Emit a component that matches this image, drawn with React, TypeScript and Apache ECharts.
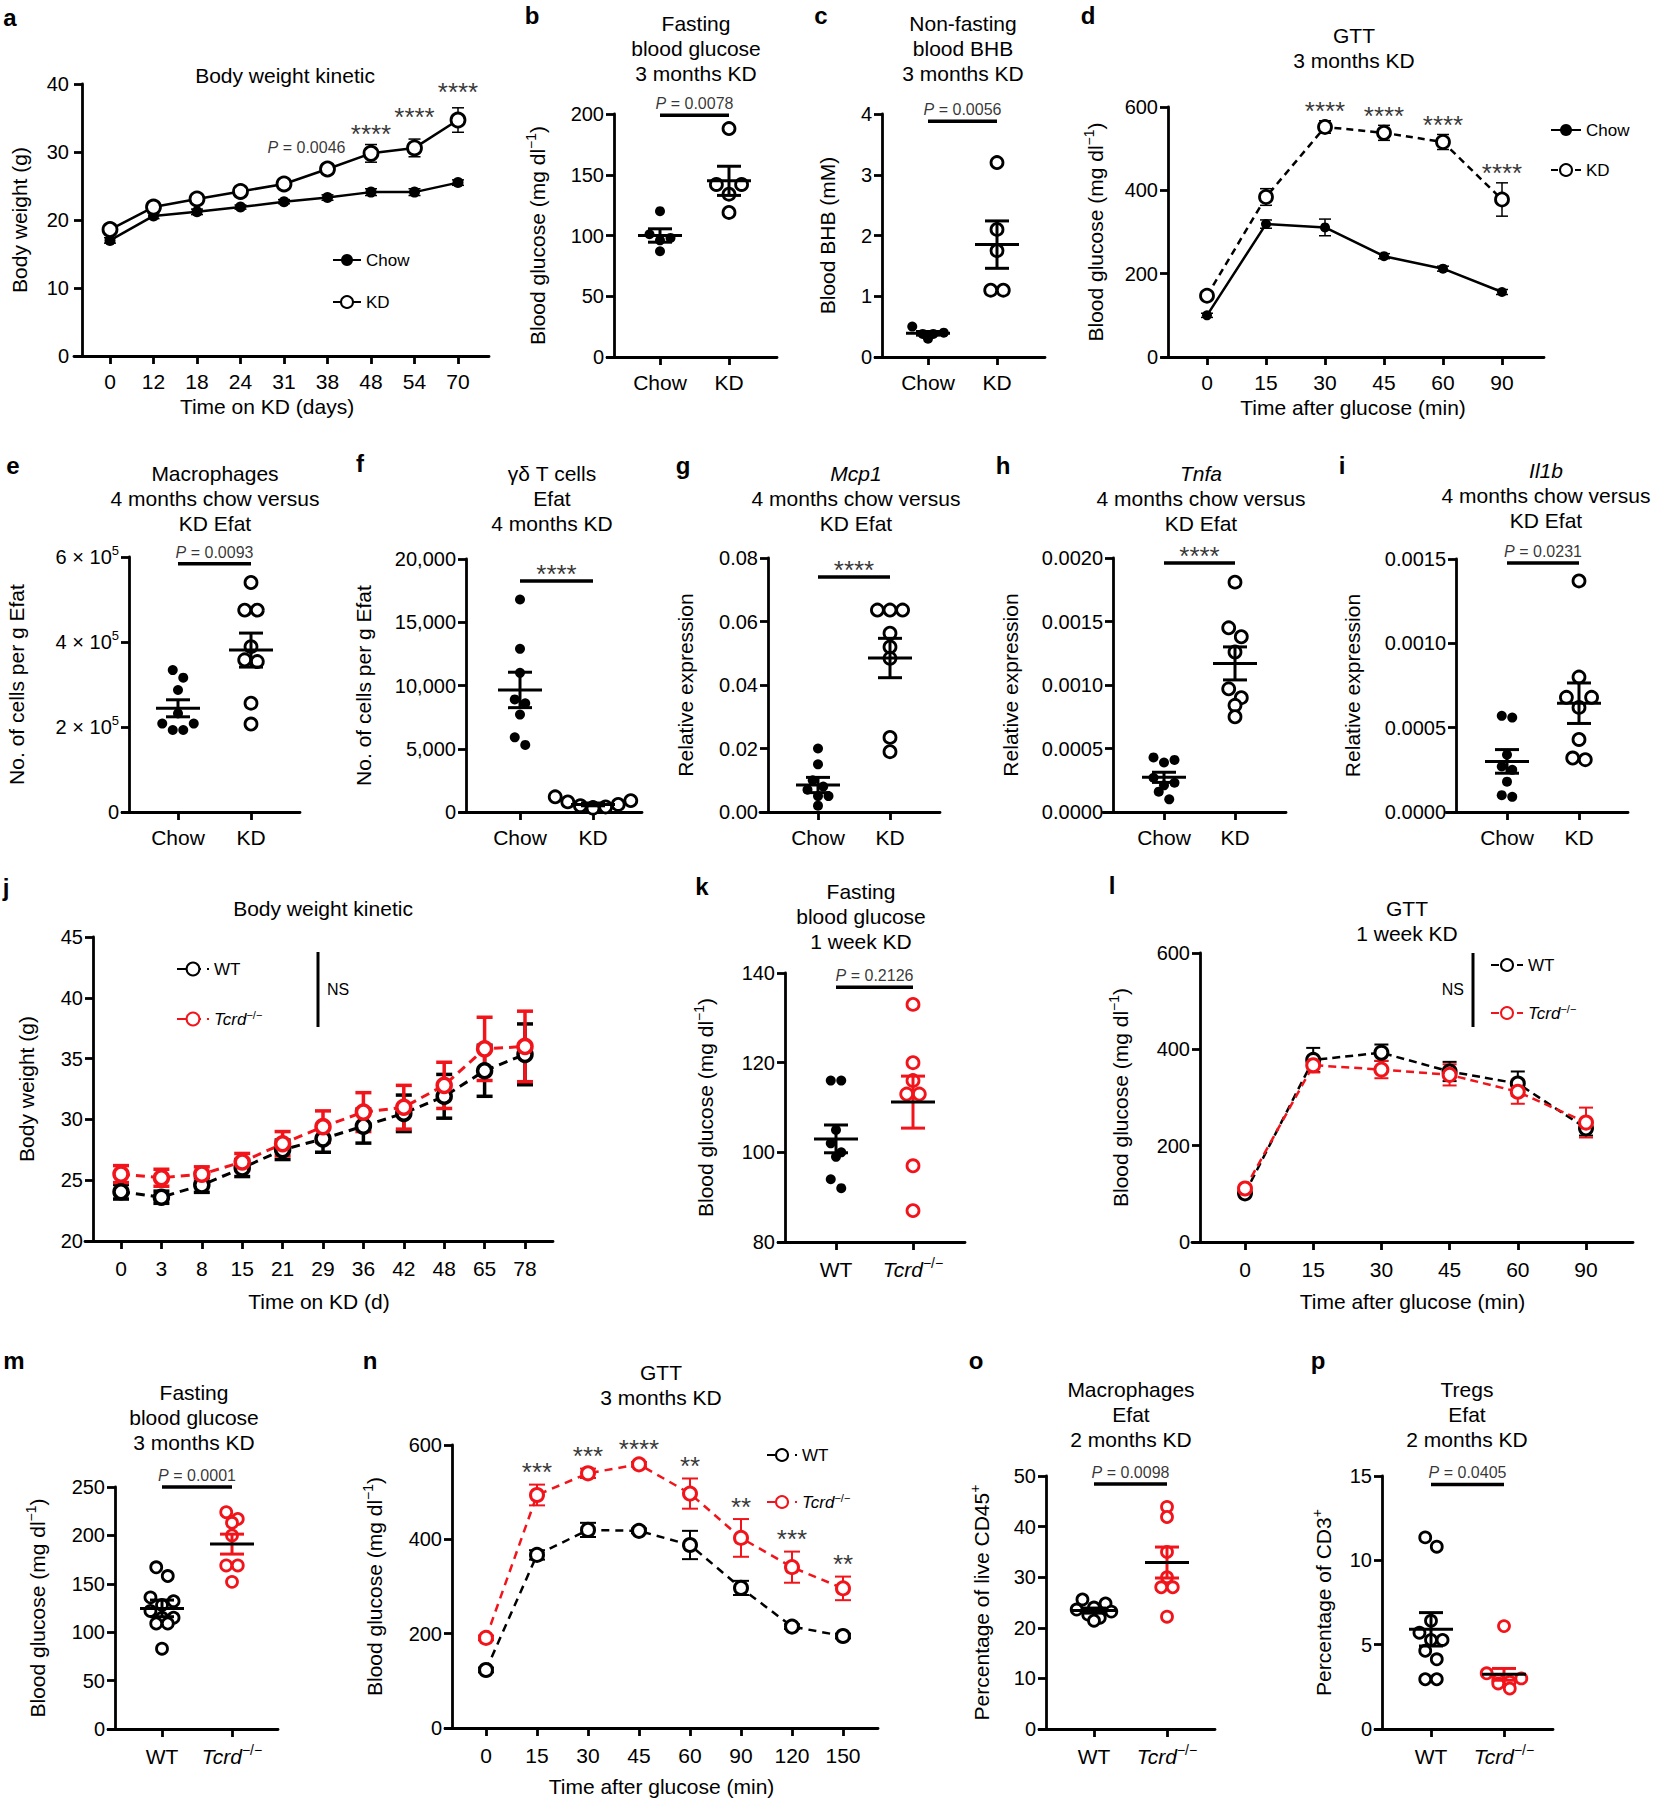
import React, { useEffect, useRef } from 'react';
import * as echarts from 'echarts';

const FONT = "'Liberation Sans', Arial, Helvetica, sans-serif";
const BLACK = '#000000';
const RED = '#f2141b';
const AXW = 2.8;

// ---------------- data ----------------
// a
const aDays = ['0', '12', '18', '24', '31', '38', '48', '54', '70'];
const aY = [0, 40, 10];
const aChow = [17.0, 20.6, 21.2, 21.9, 22.7, 23.3, 24.1, 24.1, 25.5];
const aChowErr = [0.4, 0.4, 0.4, 0.3, 0.3, 0.4, 0.5, 0.5, 0.4];
const aKD = [18.6, 21.9, 23.1, 24.2, 25.3, 27.5, 29.8, 30.6, 34.7];
const aKDErr = [0.6, 0.6, 0.5, 0.5, 0.6, 0.7, 1.3, 1.3, 1.8];
const aStars = ['', '', '', '', '', '', '****', '****', '****'];
const aStarAt = [0, 0, 0, 0, 0, 0, 30.4, 32.9, 36.5];
const aNote = ['', '', '', '', '', 'P = 0.0046', '', '', ''];
// b
const grpChow = ['Chow', 'KD'];
const bY = [0, 200, 50];
const bChow = [120, 101, 98, 96, 87];
const bKD = [188, 142, 142, 134, 119];
const bMean = [100, 145];
const bSem = [5.5, 12];
const bSig = { y: 199, text: 'P = 0.0078' };
// c
const cY = [0, 4, 1];
const cChow = [0.5, 0.4, 0.38, 0.38, 0.3];
const cKD = [3.2, 2.1, 1.75, 1.1, 1.1];
const cMean = [0.39, 1.85];
const cSem = [0.03, 0.39];
const cSig = { y: 3.88, text: 'P = 0.0056' };
// d
const dTimes = ['0', '15', '30', '45', '60', '90'];
const dY = [0, 600, 200];
const dChow = [100, 319, 311, 242, 212, 156];
const dChowErr = [5, 10, 20, 6, 6, 6];
const dKD = [147, 384, 552, 538, 516, 378];
const dKDErr = [8, 20, 15, 18, 18, 40];
const dStars = ['', '', '****', '****', '****', '****'];
// e
const eY = [0, 600000, 200000];
const eChow = [334000, 316000, 287000, 232000, 208000, 208000, 193000, 193000];
const eKD = [540000, 475000, 475000, 389000, 358000, 354000, 256000, 207000];
const eMean = [244000, 381000];
const eSem = [20000, 40000];
const eSig = { y: 584000, text: 'P = 0.0093' };
// f
const fY = [0, 20000, 5000];
const fChow = [16800, 12900, 11000, 8900, 8600, 7700, 5900, 5300];
const fKD = [1200, 900, 800, 600, 500, 400, 350, 300];
const fMean = [9650, 600];
const fSem = [1400, 110];
const fSig = { y: 18260, text: '****' };
// g
const gY = [0, 0.08, 0.02];
const gChow = [0.02, 0.015, 0.01, 0.008, 0.007, 0.005, 0.005, 0.002];
const gKD = [0.0636, 0.0636, 0.0636, 0.0563, 0.052, 0.0484, 0.0235, 0.019];
const gMean = [0.0085, 0.0485];
const gSem = [0.0024, 0.0062];
const gSig = { y: 0.074, text: '****' };
// h
const hY = [0, 0.002, 0.0005];
const hChow = [0.00043, 0.00041, 0.00039, 0.00027, 0.00023, 0.00021, 0.00016, 0.0001];
const hKD = [0.00181, 0.00145, 0.00138, 0.00126, 0.00097, 0.0009, 0.00084, 0.00075];
const hMean = [0.000273, 0.00117];
const hSem = [0.00004, 0.00013];
const hSig = { y: 0.00196, text: '****' };
// i
const iY = [0, 0.0015, 0.0005];
const iChow = [0.00057, 0.00056, 0.00034, 0.00027, 0.00025, 0.00018, 0.0001, 0.00009];
const iKD = [0.00137, 0.0008, 0.00068, 0.00068, 0.00062, 0.00043, 0.00032, 0.00031];
const iMean = [0.0003, 0.000645];
const iSem = [0.00007, 0.00012];
const iSig = { y: 0.001476, text: 'P = 0.0231' };
// j
const jDays = ['0', '3', '8', '15', '21', '29', '36', '42', '48', '65', '78'];
const jY = [20, 45, 5];
const jWT = [24.05, 23.6, 24.6, 26.0, 27.5, 28.4, 29.45, 30.5, 31.9, 34.0, 35.35];
const jWTErr = [0.6, 0.5, 0.6, 0.7, 0.8, 1.1, 1.4, 1.5, 1.8, 2.1, 2.5];
const jKO = [25.5, 25.2, 25.5, 26.5, 28.0, 29.4, 30.6, 31.0, 32.8, 35.8, 36.0];
const jKOErr = [0.7, 0.7, 0.6, 0.7, 1.0, 1.3, 1.6, 1.8, 1.9, 2.6, 2.9];
// k
const grpWT = ['WT', 'Tcrd'];
const kY = [80, 140, 20];
const kWT = [116, 116, 105, 102, 100, 99, 94, 92];
const kKO = [133, 120, 116, 113, 113, 97, 87];
const kMean = [103, 111.2];
const kSem = [3.1, 5.8];
const kSig = { y: 136.8, text: 'P = 0.2126' };
// l
const lTimes = ['0', '15', '30', '45', '60', '90'];
const lY = [0, 600, 200];
const lWT = [101, 378, 393, 354, 329, 236];
const lWTErr = [5, 25, 17, 20, 25, 15];
const lKO = [111, 367, 358, 347, 312, 248];
const lKOErr = [5, 15, 18, 22, 25, 31];
// m
const mY = [0, 250, 50];
const mWT = [167, 158, 136, 132, 128, 122, 115, 115, 109, 109, 83];
const mKO = [224, 217, 213, 200, 169, 169, 152];
const mMean = [124.6, 191];
const mSem = [8.6, 10.3];
const mSig = { y: 250, text: 'P = 0.0001' };
// n
const nTimes = ['0', '15', '30', '45', '60', '90', '120', '150'];
const nY = [0, 600, 200];
const nWT = [123, 367, 420, 418, 388, 297, 215, 195];
const nWTErr = [5, 10, 15, 5, 30, 15, 5, 5];
const nKO = [191, 494, 540, 559, 497, 403, 341, 296];
const nKOErr = [5, 22, 10, 5, 32, 40, 33, 25];
const nStars = ['', '***', '***', '****', '**', '**', '***', '**'];
// o
const oY = [0, 50, 10];
const oWT = [25.6, 24.8, 24.0, 23.6, 23.2, 22.6, 22.0, 21.4];
const oKO = [43.9, 41.9, 35.0, 30.0, 28.0, 28.0, 22.2];
const oMean = [23.4, 32.9];
const oSem = [0.5, 3.06];
const oSig = { y: 48.4, text: 'P = 0.0098' };
// p
const pY = [0, 15, 5];
const pWT = [11.36, 10.81, 6.42, 5.71, 5.28, 5.28, 4.64, 4.13, 2.95, 2.95];
const pKO = [6.1, 3.3, 3.0, 2.9, 2.8, 2.7, 2.4];
const pMean = [5.91, 3.24];
const pSem = [0.99, 0.35];
const pSig = { y: 14.5, text: 'P = 0.0405' };

// ---------------- layout (pixels) ----------------
const G: any = {
  a: { x0: 74, x1: 489, yx: 82, c0: 110, cN: 458, yTop: 84, yBot: 356 },
  b: { x0: 607, x1: 777, yx: 614, c0: 660, cN: 729, yTop: 114, yBot: 357 },
  c: { x0: 875, x1: 1045, yx: 882, c0: 928, cN: 997, yTop: 114, yBot: 357 },
  d: { x0: 1162, x1: 1544, yx: 1168, c0: 1207, cN: 1502, yTop: 107, yBot: 357 },
  e: { x0: 122, x1: 300, yx: 129, c0: 178, cN: 251, yTop: 557, yBot: 812 },
  f: { x0: 460, x1: 642, yx: 466, c0: 520, cN: 593, yTop: 559, yBot: 812 },
  g: { x0: 760, x1: 940, yx: 768, c0: 818, cN: 890, yTop: 558, yBot: 812 },
  h: { x0: 1103, x1: 1286, yx: 1113, c0: 1164, cN: 1235, yTop: 558, yBot: 812 },
  i: { x0: 1446, x1: 1628, yx: 1456, c0: 1507, cN: 1579, yTop: 559, yBot: 812 },
  j: { x0: 85, x1: 553, yx: 93, c0: 121, cN: 525, yTop: 937, yBot: 1241 },
  k: { x0: 778, x1: 965, yx: 785, c0: 836, cN: 913, yTop: 973, yBot: 1242 },
  l: { x0: 1192, x1: 1633, yx: 1200, c0: 1245, cN: 1586, yTop: 953, yBot: 1242 },
  m: { x0: 108, x1: 278, yx: 115, c0: 162, cN: 232, yTop: 1487, yBot: 1729 },
  n: { x0: 445, x1: 878, yx: 452, c0: 486, cN: 843, yTop: 1445, yBot: 1728 },
  o: { x0: 1039, x1: 1215, yx: 1046, c0: 1094, cN: 1167, yTop: 1476, yBot: 1729 },
  p: { x0: 1375, x1: 1553, yx: 1382, c0: 1431, cN: 1504, yTop: 1476, yBot: 1729 },
};

const GLUCOSE = 'Blood glucose (mg dl{sup|−1})';
const LABELMAP: Record<string, string> = { Chow: 'Chow', KD: 'KD', WT: 'WT', Tcrd: '{i|Tcrd}{sup|−/−}' };
const STAR_SIZE = 26;

function richFor(size: number, sup: number) {
  return {
    i: { fontStyle: 'italic', fontSize: size, fontFamily: FONT, color: BLACK },
    sup: { fontSize: sup, fontFamily: FONT, color: BLACK, verticalAlign: 'top', fontStyle: 'normal' },
  };
}
const italP = (t: string) => (t.startsWith('P') ? '{i|P}' + t.slice(1) : t);

function swarm(vals: number[], pxPerVal: number, D: number): number[] {
  const order = vals.map((_, i) => i).sort((a, b) => vals[b] - vals[a]);
  const out = new Array(vals.length).fill(0);
  let k = 0;
  while (k < order.length) {
    const bin = [order[k]];
    const top = vals[order[k]];
    let j = k + 1;
    while (j < order.length && (top - vals[order[j]]) * pxPerVal < D * 0.9) {
      bin.push(order[j]);
      j++;
    }
    const m = bin.length;
    const slots = Array.from({ length: m }, (_, s) => (s - (m - 1) / 2) * D * 1.05).sort(
      (a, b) => Math.abs(b) - Math.abs(a) || a - b
    );
    bin.forEach((idx, s) => (out[idx] = slots[s]));
    k = j;
  }
  return out;
}

function axes(o: any, key: string, labels: string[], yr: number[], p: any) {
  const g = G[key];
  const gi = o.grid.length;
  const sp = (g.cN - g.c0) / (labels.length - 1);
  const idx = labels.map((_, i) => i);
  const lineStyle = { color: BLACK, width: AXW };
  o.grid.push({ left: g.x0, top: g.yTop, width: g.x1 - g.x0, height: g.yBot - g.yTop, containLabel: false, outerBoundsMode: 'none' });
  o.xAxis.push({
    gridIndex: gi, type: 'value', min: (g.x0 - g.c0) / sp, max: (g.x1 - g.c0) / sp,
    splitLine: { show: false },
    axisLine: { show: true, onZero: false, lineStyle },
    axisTick: { show: true, customValues: idx, length: 8, inside: false, lineStyle },
    axisLabel: {
      show: true, customValues: idx, formatter: (v: number) => LABELMAP[labels[Math.round(v)]] || labels[Math.round(v)],
      color: BLACK, fontSize: 21, fontFamily: FONT, margin: p.xMargin ?? 12, lineHeight: 26, rich: richFor(21, 14),
    },
    name: p.xName || '', nameLocation: 'middle', nameGap: p.xNameGap ?? 40, nameMoveOverlap: false,
    nameTextStyle: { fontSize: 21, color: BLACK, fontFamily: FONT, padding: p.xNamePad || 0 },
  });
  o.yAxis.push({
    gridIndex: gi, type: 'value', min: yr[0], max: yr[1], interval: yr[2], offset: -(g.yx - g.x0),
    splitLine: { show: false },
    axisLine: { show: true, onZero: false, lineStyle },
    axisTick: { show: true, length: 8, inside: false, lineStyle },
    axisLabel: {
      show: true, formatter: p.yFmt || ((v: number) => String(v)), color: BLACK, fontSize: 20, fontFamily: FONT,
      margin: p.yMargin ?? 10, lineHeight: 26, rich: richFor(20, 13),
    },
    name: p.yName, nameLocation: 'middle', nameGap: p.yNameGap, nameRotate: 90, nameMoveOverlap: false,
    nameTextStyle: { fontSize: 21, color: BLACK, fontFamily: FONT, lineHeight: 26, rich: richFor(21, 14) },
  });
  return { gi, sp, g };
}

function errRender(color: string, w: number, cap: number) {
  return (params: any, api: any) => {
    const x = api.value(0), m = api.value(1), e = api.value(2);
    const t = api.coord([x, m + e]), b = api.coord([x, m - e]);
    const st = { stroke: color, lineWidth: w, fill: null };
    return {
      type: 'group',
      children: [
        { type: 'line', shape: { x1: t[0], y1: t[1], x2: b[0], y2: b[1] }, style: st },
        { type: 'line', shape: { x1: t[0] - cap, y1: t[1], x2: t[0] + cap, y2: t[1] }, style: st },
        { type: 'line', shape: { x1: b[0] - cap, y1: b[1], x2: b[0] + cap, y2: b[1] }, style: st },
      ],
    };
  };
}

function meanRender(colors: string[]) {
  return (params: any, api: any) => {
    const x = api.value(0), m = api.value(1), e = api.value(2);
    const c = api.coord([x, m]), t = api.coord([x, m + e]), b = api.coord([x, m - e]);
    const col = colors[Math.round(x)];
    const st = { stroke: col, lineWidth: 3, fill: null };
    return {
      type: 'group',
      children: [
        { type: 'line', shape: { x1: t[0], y1: t[1], x2: b[0], y2: b[1] }, style: st },
        { type: 'line', shape: { x1: t[0] - 12, y1: t[1], x2: t[0] + 12, y2: t[1] }, style: st },
        { type: 'line', shape: { x1: b[0] - 12, y1: b[1], x2: b[0] + 12, y2: b[1] }, style: st },
        { type: 'line', shape: { x1: c[0] - 22, y1: c[1], x2: c[0] + 22, y2: c[1] }, style: { stroke: BLACK, lineWidth: 3 } },
      ],
    };
  };
}

function notes(o: any, gi: number, pts: any[], size: number, distance: number, offset: number[] = [0, 0]) {
  o.series.push({
    type: 'scatter', xAxisIndex: gi, yAxisIndex: gi, silent: true, clip: false, z: 6, symbolSize: 1,
    itemStyle: { color: 'rgba(0,0,0,0)' },
    data: pts.map((p) => ({ name: p.text, value: [p.x, p.y] })),
    label: {
      show: true, position: 'top', distance, offset, formatter: (q: any) => italP(q.name),
      fontSize: size, color: BLACK, fontFamily: FONT, rich: richFor(size, 11),
    },
  });
}

function lineSeries(o: any, gi: number, key: string, s: any) {
  o.series.push({
    type: 'line', name: key + '-' + s.name, xAxisIndex: gi, yAxisIndex: gi, silent: true, z: 3,
    data: s.vals.map((v: number, i: number) => [i, v]),
    symbol: 'circle', symbolSize: s.size, showSymbol: true,
    lineStyle: { color: s.color, width: s.lw, type: s.dash || 'solid', opacity: 1 },
    itemStyle: s.open
      ? { color: '#ffffff', borderColor: s.color, borderWidth: s.bw, opacity: 1 }
      : { color: s.color, borderColor: s.color, borderWidth: 0, opacity: 1 },
    emphasis: { disabled: true },
  });
  o.series.push({
    type: 'custom', xAxisIndex: gi, yAxisIndex: gi, z: 2, silent: true, clip: false,
    data: s.vals.map((v: number, i: number) => [i, v, s.errs[i]]), encode: { x: 0, y: 1 },
    renderItem: errRender(s.color, s.ew, s.cap),
  });
}

function legend(o: any, key: string, names: string[], pos: any) {
  o.legend.push({
    data: names.map((n) => key + '-' + n), left: pos.left, top: pos.top, orient: 'vertical', padding: 0,
    itemWidth: pos.w, itemHeight: pos.h, itemGap: pos.gap, selectedMode: false,
    formatter: (name: string) => LABELMAP[name.split('-')[1]],
    textStyle: { fontSize: 17, color: BLACK, fontFamily: FONT, lineHeight: 20, rich: richFor(17, 11) },
  });
}

function dotPanel(o: any, key: string, labels: string[], yr: number[], p: any, groups: any[], mean: number[], sem: number[], sig: any) {
  const { gi, sp, g } = axes(o, key, labels, yr, p);
  const pxPerVal = (g.yBot - g.yTop) / (yr[1] - yr[0]);
  groups.forEach((gr: any, k: number) => {
    const offs = swarm(gr.vals, pxPerVal, gr.size);
    o.series.push({
      type: 'scatter', xAxisIndex: gi, yAxisIndex: gi, silent: true, clip: false, z: 3,
      symbol: 'circle', symbolSize: gr.size,
      itemStyle: gr.open
        ? { color: '#ffffff', borderColor: gr.color, borderWidth: 2.8, opacity: 1 }
        : { color: gr.color, borderWidth: 0, opacity: 1 },
      emphasis: { disabled: true },
      data: gr.vals.map((v: number, i: number) => [k + offs[i] / sp, v]),
    });
  });
  o.series.push({
    type: 'custom', xAxisIndex: gi, yAxisIndex: gi, z: 4, silent: true, clip: false,
    data: mean.map((m, i) => [i, m, sem[i]]), encode: { x: 0, y: 1 },
    renderItem: meanRender(groups.map((gr: any) => gr.color)),
  });
  o.series.push({
    type: 'line', xAxisIndex: gi, yAxisIndex: gi, silent: true, z: 4, clip: false,
    data: [[0, sig.y], [1, sig.y]], symbol: 'none', lineStyle: { color: BLACK, width: 3.5 },
  });
  const isP = sig.text.startsWith('P');
  notes(o, gi, [{ x: 0.5, y: sig.y, text: sig.text }], isP ? 16 : STAR_SIZE, isP ? 3 : -6);
}

function gtext(x: number, y: number, text: string, size: number, opt: any = {}) {
  return {
    type: 'text', x, y, silent: true,
    style: {
      text, fill: BLACK, fontSize: size, fontFamily: FONT, fontWeight: opt.bold ? 'bold' : 'normal',
      align: opt.align || 'center', textAlign: opt.align || 'center',
      verticalAlign: opt.va || 'top', textVerticalAlign: opt.va || 'top',
      lineHeight: opt.lh || 25,
      rich: { i: { fontStyle: 'italic', fontSize: size, fontFamily: FONT, fill: BLACK, lineHeight: opt.lh || 25 } },
    },
  };
}

function buildOption() {
  const o: any = {
    animation: false, backgroundColor: '#ffffff',
    textStyle: { fontFamily: FONT, color: BLACK },
    grid: [], xAxis: [], yAxis: [], series: [], legend: [], graphic: { elements: [] },
  };

  // ---- a
  {
    const { gi } = axes(o, 'a', aDays, aY, { yName: 'Body weight (g)', yNameGap: 50, xName: 'Time on KD (days)', xNameGap: 40, xNamePad: [0, 29, 0, 0], yMargin: 13 });
    lineSeries(o, gi, 'a', { name: 'Chow', vals: aChow, errs: aChowErr, color: BLACK, open: false, size: 11, lw: 2.5, ew: 1.5, cap: 6 });
    lineSeries(o, gi, 'a', { name: 'KD', vals: aKD, errs: aKDErr, color: BLACK, open: true, size: 14, bw: 2.8, lw: 2.5, ew: 1.5, cap: 6 });
    notes(o, gi, aStars.map((s, i) => ({ x: i, y: aStarAt[i], text: s })).filter((d) => d.text), STAR_SIZE, 2);
    notes(o, gi, aNote.map((s, i) => ({ x: i, y: aKD[i] + aKDErr[i], text: s })).filter((d) => d.text), 16, 8, [-21, 0]);
    legend(o, 'a', ['Chow', 'KD'], { left: 332, top: 250, w: 28, h: 15, gap: 22 });
  }
  // ---- b, c
  dotPanel(o, 'b', grpChow, bY, { yName: GLUCOSE, yNameGap: 64 },
    [{ vals: bChow, color: BLACK, open: false, size: 10 }, { vals: bKD, color: BLACK, open: true, size: 12 }], bMean, bSem, bSig);
  dotPanel(o, 'c', grpChow, cY, { yName: 'Blood BHB (mM)', yNameGap: 42 },
    [{ vals: cChow, color: BLACK, open: false, size: 10 }, { vals: cKD, color: BLACK, open: true, size: 12 }], cMean, cSem, cSig);
  // ---- d
  {
    const { gi } = axes(o, 'd', dTimes, dY, { yName: GLUCOSE, yNameGap: 60, xName: 'Time after glucose (min)', xNameGap: 40 });
    lineSeries(o, gi, 'd', { name: 'Chow', vals: dChow, errs: dChowErr, color: BLACK, open: false, size: 10, lw: 2.5, ew: 1.5, cap: 6 });
    lineSeries(o, gi, 'd', { name: 'KD', vals: dKD, errs: dKDErr, color: BLACK, open: true, size: 13, bw: 2.8, lw: 2.5, ew: 1.5, cap: 6, dash: [7, 5] });
    notes(o, gi, dStars.map((s, i) => ({ x: i, y: dKD[i] + dKDErr[i], text: s })).filter((d) => d.text), STAR_SIZE, -4);
    legend(o, 'd', ['Chow', 'KD'], { left: 1550, top: 120, w: 30, h: 15, gap: 20 });
  }
  // ---- e..i
  dotPanel(o, 'e', grpChow, eY, { yName: 'No. of cells per g Efat', yNameGap: 100, yFmt: (v: number) => (v === 0 ? '0' : `${Math.round(v / 100000)} × 10{sup|5}`) },
    [{ vals: eChow, color: BLACK, open: false, size: 10 }, { vals: eKD, color: BLACK, open: true, size: 12 }], eMean, eSem, eSig);
  dotPanel(o, 'f', grpChow, fY, { yName: 'No. of cells per g Efat', yNameGap: 90, yFmt: (v: number) => Math.round(v).toLocaleString('en-US') },
    [{ vals: fChow, color: BLACK, open: false, size: 10 }, { vals: fKD, color: BLACK, open: true, size: 12 }], fMean, fSem, fSig);
  dotPanel(o, 'g', grpChow, gY, { yName: 'Relative expression', yNameGap: 70, yFmt: (v: number) => v.toFixed(2) },
    [{ vals: gChow, color: BLACK, open: false, size: 10 }, { vals: gKD, color: BLACK, open: true, size: 12 }], gMean, gSem, gSig);
  dotPanel(o, 'h', grpChow, hY, { yName: 'Relative expression', yNameGap: 90, yFmt: (v: number) => v.toFixed(4) },
    [{ vals: hChow, color: BLACK, open: false, size: 10 }, { vals: hKD, color: BLACK, open: true, size: 12 }], hMean, hSem, hSig);
  dotPanel(o, 'i', grpChow, iY, { yName: 'Relative expression', yNameGap: 91, yFmt: (v: number) => v.toFixed(4) },
    [{ vals: iChow, color: BLACK, open: false, size: 10 }, { vals: iKD, color: BLACK, open: true, size: 12 }], iMean, iSem, iSig);
  // ---- j
  {
    const { gi } = axes(o, 'j', jDays, jY, { yName: 'Body weight (g)', yNameGap: 54, xName: 'Time on KD (d)', xNameGap: 50, xMargin: 14 });
    lineSeries(o, gi, 'j', { name: 'WT', vals: jWT, errs: jWTErr, color: BLACK, open: true, size: 14, bw: 3.5, lw: 3, ew: 3.5, cap: 8, dash: [9, 6] });
    lineSeries(o, gi, 'j', { name: 'Tcrd', vals: jKO, errs: jKOErr, color: RED, open: true, size: 14, bw: 3.5, lw: 3, ew: 3.5, cap: 8, dash: [9, 6] });
    legend(o, 'j', ['WT', 'Tcrd'], { left: 176, top: 959, w: 32, h: 16, gap: 30 });
  }
  // ---- k
  dotPanel(o, 'k', grpWT, kY, { yName: GLUCOSE, yNameGap: 67, xMargin: 14 },
    [{ vals: kWT, color: BLACK, open: false, size: 10 }, { vals: kKO, color: RED, open: true, size: 12 }], kMean, kSem, kSig);
  // ---- l
  {
    const { gi } = axes(o, 'l', lTimes, lY, { yName: GLUCOSE, yNameGap: 67, xName: 'Time after glucose (min)', xNameGap: 49, xMargin: 14 });
    lineSeries(o, gi, 'l', { name: 'WT', vals: lWT, errs: lWTErr, color: BLACK, open: true, size: 13, bw: 3, lw: 2.5, ew: 2, cap: 7, dash: [8, 5] });
    lineSeries(o, gi, 'l', { name: 'Tcrd', vals: lKO, errs: lKOErr, color: RED, open: true, size: 13, bw: 3, lw: 2.5, ew: 2, cap: 7, dash: [8, 5] });
    legend(o, 'l', ['WT', 'Tcrd'], { left: 1490, top: 955, w: 32, h: 15, gap: 28 });
  }
  // ---- m
  dotPanel(o, 'm', grpWT, mY, { yName: GLUCOSE, yNameGap: 65, xMargin: 14 },
    [{ vals: mWT, color: BLACK, open: true, size: 11 }, { vals: mKO, color: RED, open: true, size: 11 }], mMean, mSem, mSig);
  // ---- n
  {
    const { gi } = axes(o, 'n', nTimes, nY, { yName: GLUCOSE, yNameGap: 65, xName: 'Time after glucose (min)', xNameGap: 48, xMargin: 14 });
    lineSeries(o, gi, 'n', { name: 'WT', vals: nWT, errs: nWTErr, color: BLACK, open: true, size: 13, bw: 3, lw: 2.5, ew: 2, cap: 8, dash: [8, 6] });
    lineSeries(o, gi, 'n', { name: 'Tcrd', vals: nKO, errs: nKOErr, color: RED, open: true, size: 13, bw: 3, lw: 2.5, ew: 2, cap: 8, dash: [8, 6] });
    notes(o, gi, nStars.map((s, i) => ({ x: i, y: nKO[i] + nKOErr[i], text: s })).filter((d) => d.text), STAR_SIZE, -1);
    legend(o, 'n', ['WT', 'Tcrd'], { left: 766, top: 1445, w: 30, h: 15, gap: 27 });
  }
  // ---- o, p
  dotPanel(o, 'o', grpWT, oY, { yName: 'Percentage of live CD45{sup|+}', yNameGap: 52, xMargin: 14 },
    [{ vals: oWT, color: BLACK, open: true, size: 11 }, { vals: oKO, color: RED, open: true, size: 11 }], oMean, oSem, oSig);
  dotPanel(o, 'p', grpWT, pY, { yName: 'Percentage of CD3{sup|+}', yNameGap: 46, xMargin: 14 },
    [{ vals: pWT, color: BLACK, open: true, size: 11 }, { vals: pKO, color: RED, open: true, size: 11 }], pMean, pSem, pSig);

  // ---- titles, letters, NS marks
  const E = o.graphic.elements;
  const titles: [number, number, string][] = [
    [285, 62.5, 'Body weight kinetic'],
    [696, 10.5, 'Fasting\nblood glucose\n3 months KD'],
    [963, 10.5, 'Non-fasting\nblood BHB\n3 months KD'],
    [1354, 22.5, 'GTT\n3 months KD'],
    [215, 460.5, 'Macrophages\n4 months chow versus\nKD Efat'],
    [552, 460.5, 'γδ T cells\nEfat\n4 months KD'],
    [856, 460.5, '{i|Mcp1}\n4 months chow versus\nKD Efat'],
    [1201, 460.5, '{i|Tnfa}\n4 months chow versus\nKD Efat'],
    [1546, 457.5, '{i|Il1b}\n4 months chow versus\nKD Efat'],
    [323, 895.5, 'Body weight kinetic'],
    [861, 878.5, 'Fasting\nblood glucose\n1 week KD'],
    [1407, 895.5, 'GTT\n1 week KD'],
    [194, 1379.5, 'Fasting\nblood glucose\n3 months KD'],
    [661, 1359.5, 'GTT\n3 months KD'],
    [1131, 1376.5, 'Macrophages\nEfat\n2 months KD'],
    [1467, 1376.5, 'Tregs\nEfat\n2 months KD'],
  ];
  titles.forEach(([x, y, t]) => E.push(gtext(x, y, t, 21)));
  const letters: [number, number, string][] = [
    [10, 17, 'a'], [532, 15, 'b'], [821, 15, 'c'], [1088, 15, 'd'],
    [13, 465, 'e'], [360, 463, 'f'], [683, 465, 'g'], [1003, 465, 'h'], [1342, 465, 'i'],
    [6, 887, 'j'], [702, 886, 'k'], [1112, 885, 'l'],
    [14, 1360, 'm'], [370, 1360, 'n'], [976, 1360, 'o'], [1318, 1360, 'p'],
  ];
  letters.forEach(([x, y, t]) => E.push(gtext(x, y, t, 24, { bold: true, va: 'middle' })));
  E.push({ type: 'line', silent: true, shape: { x1: 318, y1: 952, x2: 318, y2: 1027 }, style: { stroke: BLACK, lineWidth: 3 } });
  E.push(gtext(327, 989, 'NS', 16, { align: 'left', va: 'middle' }));
  E.push({ type: 'line', silent: true, shape: { x1: 1473, y1: 953, x2: 1473, y2: 1027 }, style: { stroke: BLACK, lineWidth: 3 } });
  E.push(gtext(1464, 989, 'NS', 16, { align: 'right', va: 'middle' }));

  return o;
}

export default function App() {
  const ref = useRef<HTMLDivElement>(null);
  useEffect(() => {
    if (!ref.current) return;
    const chart = echarts.init(ref.current, null, { renderer: 'svg' });
    chart.setOption(buildOption());
    return () => chart.dispose();
  }, []);
  return <div ref={ref} style={{ position: 'absolute', left: 0, top: 0, width: 1655, height: 1800, background: '#fff' }} />;
}
